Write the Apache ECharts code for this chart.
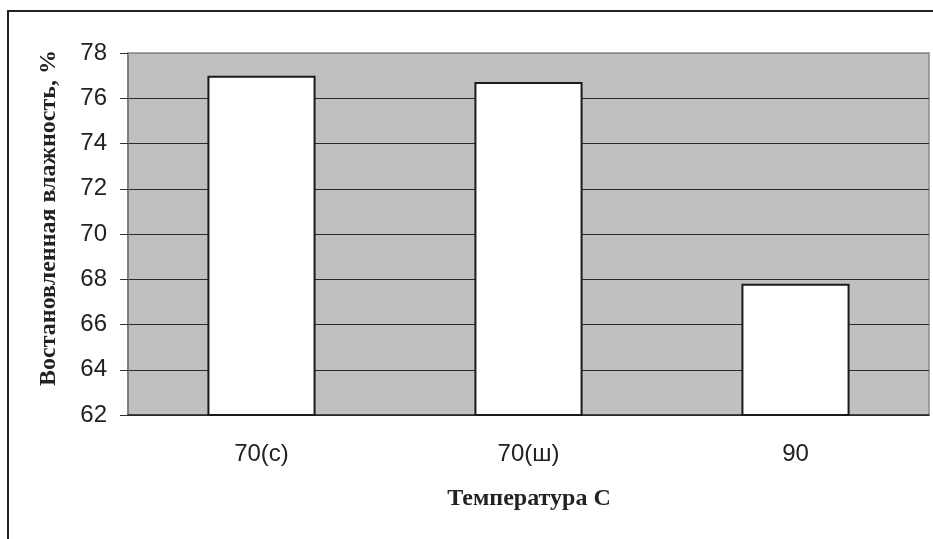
<!DOCTYPE html>
<html>
<head>
<meta charset="utf-8">
<script src="https://cdn.jsdelivr.net/npm/echarts@6/dist/echarts.min.js"></script>
<style>html,body{margin:0;padding:0;background:#fff;}#c{width:933px;height:539px;}</style>
</head>
<body>
<div id="c"></div>
<script>
const categories = ['70(с)', '70(ш)', '90'];
const values = [77.0, 76.72, 67.8];
const yMin = 62, yMax = 78, yStep = 2;
const xTitle = 'Температура С';
const yTitle = 'Востановленная влажность, %';

const chart = echarts.init(document.getElementById('c'), null, {renderer: 'canvas'});
const splitColors = [];
for (let v = yMin; v <= yMax; v += yStep) splitColors.push(v === yMax ? '#8a8a8a' : '#2a2a2a');

chart.setOption({
  animation: false,
  grid: {left: 128, top: 53, right: 4, bottom: 124, show: true, backgroundColor: '#c0c0c3', borderColor: '#8a8a8a', borderWidth: 1.5},
  xAxis: {
    type: 'category', data: categories,
    axisLine: {lineStyle: {color: '#2a2a2a', width: 1.5}},
    axisTick: {length: 7, lineStyle: {color: '#555', width: 1.5}},
    axisLabel: {fontFamily: 'Liberation Sans', fontSize: 24, color: '#222', margin: 27}
  },
  yAxis: {
    type: 'value', min: yMin, max: yMax, interval: yStep,
    axisLine: {show: true, lineStyle: {color: '#777', width: 1.5}},
    axisTick: {show: true, length: 8, lineStyle: {color: '#333', width: 1}},
    axisLabel: {fontFamily: 'Liberation Sans', fontSize: 24, color: '#222', margin: 21},
    splitLine: {show: true, lineStyle: {color: splitColors, width: 1.2}}
  },
  series: [{
    type: 'bar', data: values, barWidth: '40.5%',
    itemStyle: {color: '#ffffff', borderColor: '#1a1a1a', borderWidth: 2}
  }],
  graphic: [
    {type: 'rect', shape: {x: 8, y: 11, width: 940, height: 540}, style: {fill: 'none', stroke: '#222', lineWidth: 2}, z: 100},
    {type: 'text', x: 529, y: 499, style: {text: xTitle, font: 'bold 24px "Liberation Serif"', fill: '#222', align: 'center', verticalAlign: 'middle'}},
    {type: 'text', x: 49, y: 218, rotation: Math.PI / 2, style: {text: yTitle, font: 'bold 24px "Liberation Serif"', fill: '#222', align: 'center', verticalAlign: 'middle'}}
  ]
});
</script>
</body>
</html>
